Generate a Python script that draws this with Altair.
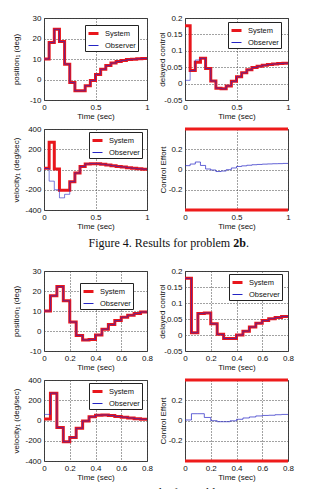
import altair as alt
import pandas as pd

# ---------------------------------------------------------------------------
# Sampled responses (sample time 0.05 s, zero-order hold)
# ---------------------------------------------------------------------------
STEP = 0.05

# Figure 4 - problem 2b, 0 .. 1 s
f4_end = 1.0
f4_position_system = [10, 18, 24.5, 18.5, 7.5, -1.5, -5.5, -5.5, -3, -0.5,
                      2.5, 5, 6.8, 8, 8.8, 9.3, 9.7, 9.9, 10.1, 10.2]
f4_position_observer = [10, 18, 24.5, 18.5, 7.5, -1.5, -5.5, -5.5, -3, -0.5,
                        2.5, 5, 6.8, 8, 8.8, 9.3, 9.7, 9.9, 10.1, 10.2]
f4_delayed_system = [0.176, 0.04, 0.065, 0.077, 0.046, 0.008, -0.014, -0.016,
                     -0.007, 0.007, 0.021, 0.033, 0.042, 0.049, 0.053, 0.056,
                     0.058, 0.06, 0.061, 0.062]
f4_delayed_observer = [0.01, 0.04, 0.072, 0.077, 0.046, 0.008, -0.014, -0.016,
                       -0.007, 0.007, 0.021, 0.033, 0.042, 0.049, 0.053, 0.056,
                       0.058, 0.06, 0.061, 0.062]
f4_velocity_system = [12, 268, 5, -205, -205, -120, -35, 30, 55, 58,
                      58, 52, 45, 38, 30, 25, 18, 12, 8, 3]
f4_velocity_observer = [10, -115, -200, -280, -245, -120, -35, 30, 55, 58,
                        58, 52, 45, 38, 30, 25, 18, 12, 8, 3]
f4_control = [0.038, 0.054, 0.074, 0.04, 0.005, -0.005, -0.02, -0.015, -0.002,
              0.015, 0.03, 0.036, 0.042, 0.047, 0.05, 0.053, 0.055, 0.057,
              0.058, 0.06]

# Figure 5 - 0 .. 0.8 s
f5_end = 0.8
f5_position_system = [10, 17.6, 22.2, 15.1, 4.5, -2.2, -4.5, -4.2, -2, 0.9,
                      3.2, 5.2, 6.9, 7.9, 8.8, 9.5]
f5_position_observer = [10, 17.6, 22.2, 15.1, 4.5, -2.2, -4.5, -4.2, -2, 0.9,
                        3.2, 5.2, 6.9, 7.9, 8.8, 9.5]
f5_delayed_system = [0.177, 0.007, 0.067, 0.069, 0.035, 0.002, -0.011, -0.011,
                     0.0, 0.012, 0.025, 0.037, 0.045, 0.051, 0.055, 0.058]
f5_delayed_observer = [0.177, 0.007, 0.067, 0.069, 0.035, 0.002, -0.011, -0.011,
                       0.0, 0.012, 0.025, 0.037, 0.045, 0.051, 0.055, 0.058]
f5_velocity_system = [15, 270, -70, -210, -167, -77, -5, 36, 53, 55,
                      50, 40, 33, 25, 18, 12]
f5_velocity_observer = [60, 270, -70, -210, -167, -77, -5, 36, 53, 55,
                        50, 40, 33, 25, 18, 12]
f5_control = [0.005, 0.067, 0.067, 0.03, -0.002, -0.012, -0.012, -0.003, 0.012,
              0.025, 0.035, 0.045, 0.05, 0.052, 0.057, 0.06]

control_limits = [-0.4, 0.4]

# Axis ticks
ticks_t1 = [0, 0.5, 1]
ticks_t08 = [0, 0.2, 0.4, 0.6, 0.8]
ticks_position = [-10, 0, 10, 20, 30]
ticks_delayed = [-0.05, 0, 0.05, 0.1, 0.15, 0.2]
ticks_velocity = [-400, -200, 0, 200, 400]
ticks_control = [-0.2, 0, 0.2]

series_names = ["System", "Observer"]
series_colors = ["#e8161c", "#2424c4"]
series_widths = [3, 1]

caption4 = ["Figure 4. Results for problem ", "2b", "."]
caption5 = ["Figure 5. Results for problem ", "2c", "."]

PANEL_W = 103
FONT = "Liberation Sans"


def stairs(end, values, name):
    """Sample-and-hold frame: one row per sample plus a closing point at `end`."""
    t = [round(i * STEP, 2) for i in range(len(values))] + [end]
    v = list(values) + [values[-1]]
    return pd.DataFrame({"t": t, "v": v, "series": name})


def x_axis(ticks):
    return alt.Axis(values=ticks, title="Time (sec)", labelExpr="'' + datum.value",
                    labelFlush=False, labelOverlap=False, labelPadding=3,
                    titleY=16, titleBaseline="middle")


def y_axis(ticks, title, title_x):
    return alt.Axis(values=ticks, title=title, labelExpr="'' + datum.value",
                    labelFlush=False, labelOverlap=False, labelPadding=3,
                    titleX=title_x, titleBaseline="middle")


def response_panel(end, sys_vals, obs_vals, xticks, ydom, yticks, ytitle,
                   height, legend_xy, title_x):
    df = pd.concat([stairs(end, sys_vals, "System"),
                    stairs(end, obs_vals, "Observer")], ignore_index=True)
    legend = alt.Legend(title=None, orient="none", legendX=legend_xy[0],
                        legendY=legend_xy[1], symbolType="stroke", symbolSize=100,
                        labelFontSize=7.5, labelFont=FONT, labelColor="#111",
                        fillColor="white", strokeColor="#222", padding=2,
                        rowPadding=0, labelOffset=5)
    base = alt.Chart(df).encode(
        x=alt.X("t:Q", scale=alt.Scale(domain=[0, end], nice=False, zero=False),
                axis=x_axis(xticks)),
        y=alt.Y("v:Q", scale=alt.Scale(domain=ydom, nice=False, zero=False),
                axis=y_axis(yticks, ytitle, title_x)),
        color=alt.Color("series:N",
                        scale=alt.Scale(domain=series_names, range=series_colors),
                        legend=legend),
        strokeWidth=alt.StrokeWidth("series:N",
                                    scale=alt.Scale(domain=series_names,
                                                    range=series_widths),
                                    legend=legend),
    )
    system = base.transform_filter(alt.datum.series == "System").mark_line(
        interpolate="step-after", clip=True)
    observer = base.transform_filter(alt.datum.series == "Observer").mark_line(
        interpolate="step-after", clip=True, strokeOpacity=0.6)
    return alt.layer(system, observer).properties(width=PANEL_W, height=height)


def control_panel(end, values, xticks, height, title_x):
    df = stairs(end, values, "Control")
    line = alt.Chart(df).mark_line(interpolate="step-after", color=series_colors[1],
                                   strokeWidth=1, strokeOpacity=0.7, clip=True).encode(
        x=alt.X("t:Q", scale=alt.Scale(domain=[0, end], nice=False, zero=False),
                axis=x_axis(xticks)),
        y=alt.Y("v:Q", scale=alt.Scale(domain=[-0.4, 0.4], nice=False, zero=False),
                axis=y_axis(ticks_control, "Control Effort", title_x)),
    )
    limits = alt.Chart(pd.DataFrame({"lim": control_limits})).mark_rule(
        color="#ee1b1b", strokeWidth=3).encode(y="lim:Q")
    return alt.layer(line, limits).properties(width=PANEL_W, height=height)


def caption_panel(parts, height, y, clip):
    df = pd.DataFrame({"normal": [parts[0]], "bold": [parts[1]], "tail": [parts[2]]})
    base = alt.Chart(df)
    style = dict(font="Liberation Serif", fontSize=12, align="left",
                 baseline="middle", color="#111", clip=clip)
    x0 = 44.5
    normal = base.mark_text(**style).encode(text="normal:N", x=alt.value(x0),
                                            y=alt.value(y))
    bold = base.mark_text(fontWeight="bold", **style).encode(
        text="bold:N", x=alt.value(x0 + 144.7), y=alt.value(y))
    tail = base.mark_text(**style).encode(text="tail:N", x=alt.value(x0 + 157.4),
                                          y=alt.value(y))
    return alt.layer(normal, bold, tail).properties(
        width=244, height=height, view=alt.ViewBackground(stroke="transparent"))


# Figure 4 panels
p1 = response_panel(f4_end, f4_position_system, f4_position_observer, ticks_t1,
                    [-10, 30], ticks_position, "position\u2081 (deg)", 82,
                    (41, 7), -28)
p2 = response_panel(f4_end, f4_delayed_system, f4_delayed_observer, ticks_t1,
                    [-0.05, 0.2], ticks_delayed, "delayed control", 82,
                    (43, 4), -23)
p3 = response_panel(f4_end, f4_velocity_system, f4_velocity_observer, ticks_t1,
                    [-400, 400], ticks_velocity, "velocity\u2081 (deg/sec)", 81,
                    (45, 3), -28)
p4 = control_panel(f4_end, f4_control, ticks_t1, 81, -22)

# Figure 5 panels
p5 = response_panel(f5_end, f5_position_system, f5_position_observer, ticks_t08,
                    [-10, 30], ticks_position, "position\u2081 (deg)", 80,
                    (36, 12), -28)
p6 = response_panel(f5_end, f5_delayed_system, f5_delayed_observer, ticks_t08,
                    [-0.05, 0.2], ticks_delayed, "delayed control", 80,
                    (44, 3), -23)
p7 = response_panel(f5_end, f5_velocity_system, f5_velocity_observer, ticks_t08,
                    [-400, 400], ticks_velocity, "velocity\u2081 (deg/sec)", 81,
                    (45, 3), -28)
p8 = control_panel(f5_end, f5_control, ticks_t08, 81, -22)


def own_legends(c):
    # every panel keeps its own colour/width scales and its own legend
    return c.resolve_scale(color="independent", strokeWidth="independent") \
            .resolve_legend(color="independent", strokeWidth="independent")


def row(left, right):
    return own_legends(alt.hconcat(left, right, spacing=38, bounds="flush"))


chart = own_legends(alt.vconcat(
    row(p1, p2),
    row(p3, p4),
    caption_panel(caption4, 27, 7.7, False),
    row(p5, p6),
    row(p7, p8),
    caption_panel(caption5, 4, 6.7, True),
    spacing=3,
)).properties(
    padding={"left": 11, "top": 13, "right": 0, "bottom": 0},
    background="white",
).configure_view(
    stroke="#3a3a3a", strokeWidth=1,
).configure_axis(
    labelFont=FONT, labelFontSize=8, labelColor="#111",
    titleFont=FONT, titleFontSize=8, titleFontWeight="normal", titleColor="#111",
    grid=True, gridColor="#444", gridDash=[1, 2], gridWidth=1,
    domain=False, ticks=False,
)

chart.save("out.html", embed_options={"renderer": "svg", "actions": False})
